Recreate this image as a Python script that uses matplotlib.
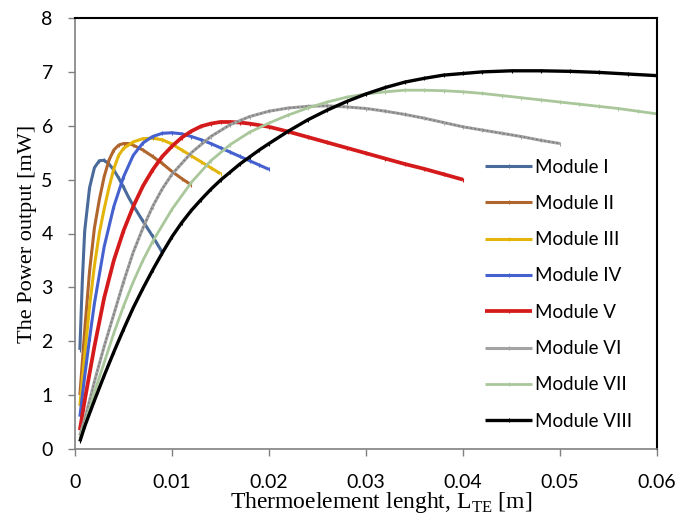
import matplotlib
matplotlib.use("Agg")
import matplotlib.pyplot as plt

# ---- data (L in m, P in mW) ----
L1 = [0.0005, 0.00075, 0.001, 0.0015, 0.002, 0.0025, 0.003, 0.0035, 0.004, 0.0045, 0.005, 0.0055, 0.006, 0.007, 0.008, 0.0085, 0.009]
P1 = [1.84, 3.10, 4.05, 4.85, 5.22, 5.35, 5.36, 5.29, 5.18, 5.03, 4.86, 4.68, 4.52, 4.23, 3.95, 3.80, 3.65]

L2 = [0.0005, 0.001, 0.0015, 0.002, 0.0025, 0.003, 0.0035, 0.004, 0.0045, 0.005, 0.0055, 0.006, 0.007, 0.008, 0.009, 0.010, 0.011, 0.012]
P2 = [1.00, 2.20, 3.30, 4.10, 4.62, 5.05, 5.36, 5.55, 5.64, 5.67, 5.67, 5.64, 5.55, 5.43, 5.30, 5.15, 5.02, 4.90]

L3 = [0.0005, 0.001, 0.0015, 0.002, 0.0025, 0.003, 0.0035, 0.004, 0.0045, 0.005, 0.006, 0.007, 0.008, 0.009, 0.010, 0.011, 0.012, 0.013, 0.014, 0.015]
P3 = [0.80, 1.75, 2.65, 3.40, 4.00, 4.45, 4.85, 5.20, 5.45, 5.58, 5.70, 5.76, 5.77, 5.74, 5.66, 5.55, 5.44, 5.33, 5.22, 5.11]

L4 = [0.0005, 0.001, 0.0015, 0.002, 0.003, 0.004, 0.005, 0.006, 0.007, 0.008, 0.009, 0.010, 0.011, 0.012, 0.013, 0.014, 0.015, 0.016, 0.017, 0.018, 0.019, 0.020]
P4 = [0.60, 1.35, 2.05, 2.70, 3.75, 4.50, 5.05, 5.45, 5.68, 5.80, 5.86, 5.87, 5.85, 5.80, 5.74, 5.67, 5.59, 5.51, 5.43, 5.35, 5.27, 5.19]

L5 = [0.0005, 0.001, 0.002, 0.003, 0.004, 0.005, 0.006, 0.007, 0.008, 0.009, 0.010, 0.011, 0.012, 0.013, 0.014, 0.015, 0.016, 0.017, 0.018, 0.020, 0.022, 0.024, 0.026, 0.028, 0.030, 0.032, 0.034, 0.036, 0.038, 0.040]
P5 = [0.35, 0.90, 1.90, 2.80, 3.50, 4.05, 4.50, 4.88, 5.18, 5.43, 5.62, 5.78, 5.90, 5.99, 6.04, 6.07, 6.07, 6.06, 6.04, 5.98, 5.89, 5.79, 5.69, 5.59, 5.49, 5.39, 5.29, 5.20, 5.10, 5.00]

L6 = [0.0005, 0.001, 0.002, 0.003, 0.004, 0.005, 0.006, 0.007, 0.008, 0.009, 0.010, 0.012, 0.014, 0.016, 0.018, 0.020, 0.022, 0.024, 0.026, 0.028, 0.030, 0.032, 0.034, 0.036, 0.038, 0.040, 0.042, 0.044, 0.046, 0.048, 0.050]
P6 = [0.25, 0.55, 1.25, 1.90, 2.50, 3.10, 3.65, 4.10, 4.50, 4.83, 5.10, 5.50, 5.80, 6.02, 6.17, 6.27, 6.33, 6.36, 6.37, 6.35, 6.32, 6.27, 6.21, 6.14, 6.06, 5.98, 5.92, 5.86, 5.80, 5.73, 5.67]

L7 = [0.0005, 0.001, 0.002, 0.003, 0.004, 0.005, 0.006, 0.007, 0.008, 0.010, 0.012, 0.014, 0.016, 0.018, 0.020, 0.022, 0.024, 0.026, 0.028, 0.030, 0.032, 0.034, 0.036, 0.038, 0.040, 0.042, 0.044, 0.046, 0.048, 0.050, 0.052, 0.054, 0.056, 0.058, 0.060]
P7 = [0.20, 0.45, 1.05, 1.60, 2.15, 2.65, 3.10, 3.50, 3.85, 4.45, 4.95, 5.35, 5.65, 5.88, 6.05, 6.20, 6.33, 6.44, 6.53, 6.59, 6.63, 6.66, 6.66, 6.65, 6.63, 6.60, 6.56, 6.52, 6.48, 6.44, 6.40, 6.36, 6.32, 6.27, 6.22]

L8 = [0.0005, 0.001, 0.002, 0.003, 0.004, 0.005, 0.006, 0.007, 0.008, 0.009, 0.010, 0.011, 0.012, 0.013, 0.014, 0.015, 0.016, 0.017, 0.018, 0.019, 0.020, 0.022, 0.024, 0.026, 0.028, 0.030, 0.032, 0.034, 0.036, 0.038, 0.040, 0.042, 0.045, 0.048, 0.051, 0.054, 0.057, 0.060]
P8 = [0.14, 0.42, 0.90, 1.36, 1.80, 2.22, 2.62, 2.98, 3.32, 3.64, 3.94, 4.20, 4.43, 4.63, 4.82, 4.99, 5.14, 5.29, 5.42, 5.55, 5.67, 5.90, 6.11, 6.29, 6.45, 6.59, 6.71, 6.81, 6.88, 6.94, 6.97, 7.00, 7.02, 7.02, 7.01, 6.99, 6.96, 6.93]

labels = ["Module I", "Module II", "Module III", "Module IV",
          "Module V", "Module VI", "Module VII", "Module VIII"]
colors = ["#4a6b9a", "#b0652c", "#e3b40a", "#4561cf",
          "#d41a1a", "#a3a3a3", "#a9c79a", "#000000"]
widths = [2.2, 2.2, 2.2, 2.2, 2.7, 2.2, 2.0, 2.4]

series = [(L1, P1), (L2, P2), (L3, P3), (L4, P4), (L5, P5), (L6, P6), (L7, P7), (L8, P8)]

fig = plt.figure(figsize=(6.89, 5.14), dpi=100)
ax = fig.add_axes([75/689, 1 - 449/514, (657-75)/689, (449-18)/514])

handles = []
for (x, y), lab, c, w in zip(series, labels, colors, widths):
    h, = ax.plot(x, y, color=c, lw=w, label=lab, solid_capstyle='butt',
                 marker='|', markersize=3, markeredgewidth=0.8)
    handles.append(h)
    if lab == "Module VI":
        ax.plot(x, y, color="#7a7a7a", lw=1.2, linestyle=(0, (1, 1.5)))

ax.set_xlim(0, 0.06)
ax.set_ylim(0, 8)
ax.set_xticks([0, 0.01, 0.02, 0.03, 0.04, 0.05, 0.06])
ax.set_xticklabels(["0", "0.01", "0.02", "0.03", "0.04", "0.05", "0.06"])
ax.set_yticks(range(0, 9))

for t in ax.get_xticklabels() + ax.get_yticklabels():
    t.set_fontfamily("Lato")
    t.set_fontsize(14)
ax.tick_params(axis='both', direction='out', length=5, width=1, color="#808080")
ax.tick_params(axis='x', pad=13)
ax.tick_params(axis='y', pad=11)

for s in ["left", "bottom"]:
    ax.spines[s].set_color("#808080")
    ax.spines[s].set_linewidth(1.2)
for s in ["top", "right"]:
    ax.spines[s].set_color("#000000")
    ax.spines[s].set_linewidth(1.5)

ax.set_ylabel("The Power output [mW]", family="Liberation Serif", fontsize=16, labelpad=3)
ax.set_xlabel(r"Thermoelement lenght, L$_{\mathregular{TE}}$ [m]", family="Liberation Serif",
              fontsize=17)
ax.xaxis.label.set_verticalalignment('top')
ax.xaxis.set_label_coords((381 - 75) / (657 - 75), -(490 - 449) / (449 - 18))

leg = ax.legend(handles=handles, loc="upper left", bbox_to_anchor=(478/689, 1 - 151/514),
                bbox_transform=fig.transFigure, frameon=False,
                prop=dict(family="Lato", size=13.5), handlelength=2.5,
                handletextpad=0.15, labelspacing=1.03, borderaxespad=0)

fig.savefig("out.png", dpi=100)
